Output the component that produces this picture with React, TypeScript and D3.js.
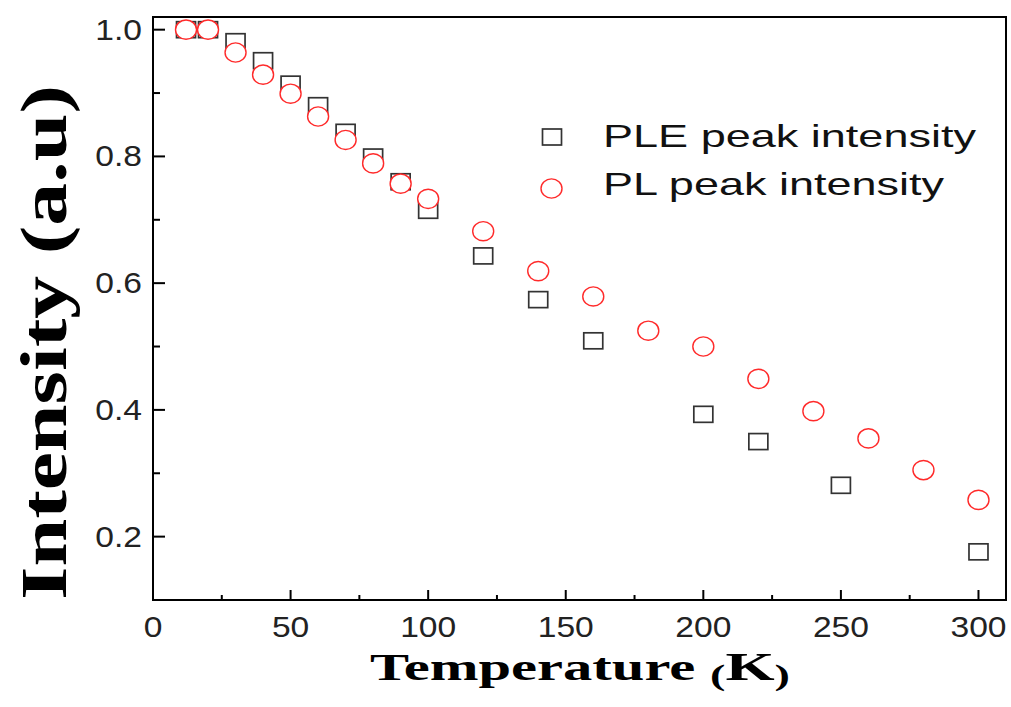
import React from "react";
import * as d3 from "d3";

const pleTemps = [12, 20, 30, 40, 50, 60, 70, 80, 90, 100, 120, 140, 160, 200, 220, 250, 300];
const pleValues = [1.0, 1.0, 0.981, 0.951, 0.914, 0.88, 0.838, 0.799, 0.76, 0.715, 0.643, 0.574, 0.509, 0.393, 0.35, 0.281, 0.176];
const plTemps = [12, 20, 30, 40, 50, 60, 70, 80, 90, 100, 120, 140, 160, 180, 200, 220, 240, 260, 280, 300];
const plValues = [1.0, 1.0, 0.964, 0.929, 0.899, 0.863, 0.826, 0.789, 0.757, 0.733, 0.682, 0.619, 0.579, 0.525, 0.5, 0.449, 0.398, 0.355, 0.305, 0.258];
const xMajorTicks = [0, 50, 100, 150, 200, 250, 300];
const xMinorTicks = [25, 75, 125, 175, 225, 275];
const yMajorTicks = [0.2, 0.4, 0.6, 0.8, 1.0];
const yMinorTicks = [0.3, 0.5, 0.7, 0.9];
const legendLabels = ["PLE peak intensity", "PL peak intensity"];

const W = 1011;
const H = 707;
const L = 153, R = 1006, T = 17, B = 600;

export default function App() {
  const x = d3.scaleLinear().domain([0, 310]).range([L, R]);
  const y = d3.scaleLinear().domain([0.1, 1.02]).range([B, T]);
  const sqW = 19, sqH = 16;
  const rx = 10.5, ry = 9.6;
  const tickFont = "'Liberation Sans', Arial, sans-serif";
  const serif = "'Liberation Serif', 'Times New Roman', serif";

  return (
    <svg width={W} height={H} style={{ position: "absolute", left: 0, top: 0, background: "#fff" }}>
      <rect x={0} y={0} width={W} height={H} fill="#fff" />
      {/* ticks */}
      {xMajorTicks.map((t) => (
        <line key={"xM" + t} x1={x(t)} x2={x(t)} y1={B} y2={B - 10} stroke="#000" strokeWidth={2} />
      ))}
      {xMinorTicks.map((t) => (
        <line key={"xm" + t} x1={x(t)} x2={x(t)} y1={B} y2={B - 5} stroke="#000" strokeWidth={2} />
      ))}
      {yMajorTicks.map((t) => (
        <line key={"yM" + t} x1={L} x2={L + 12} y1={y(t)} y2={y(t)} stroke="#000" strokeWidth={2} />
      ))}
      {yMinorTicks.map((t) => (
        <line key={"ym" + t} x1={L} x2={L + 7} y1={y(t)} y2={y(t)} stroke="#000" strokeWidth={2} />
      ))}
      {/* tick labels */}
      {xMajorTicks.map((t) => (
        <text
          key={"xl" + t}
          transform={`translate(${x(t)},637) scale(1.12,1)`}
          textAnchor="middle"
          fontFamily={tickFont}
          fontSize={30}
          fill="#222"
        >
          {t}
        </text>
      ))}
      {yMajorTicks.map((t) => (
        <text
          key={"yl" + t}
          transform={`translate(142,${y(t) + 10}) scale(1.12,1)`}
          textAnchor="end"
          fontFamily={tickFont}
          fontSize={30}
          fill="#222"
        >
          {t.toFixed(1)}
        </text>
      ))}
      {/* frame */}
      <rect x={L} y={T} width={R - L} height={B - T} fill="none" stroke="#000" strokeWidth={2} />
      {/* data: squares then circles */}
      {pleTemps.map((t, i) => (
        <rect
          key={"sq" + i}
          x={x(t) - sqW / 2}
          y={y(pleValues[i]) - sqH / 2}
          width={sqW}
          height={sqH}
          fill="#fff"
          stroke="#333"
          strokeWidth={1.7}
        />
      ))}
      {plTemps.map((t, i) => (
        <ellipse
          key={"c" + i}
          cx={x(t)}
          cy={y(plValues[i])}
          rx={rx}
          ry={ry}
          fill="#fff"
          stroke="#ff2a2a"
          strokeWidth={1.4}
        />
      ))}
      {/* legend */}
      <rect x={552 - sqW / 2} y={137 - sqH / 2} width={sqW} height={sqH} fill="#fff" stroke="#333" strokeWidth={1.7} />
      <ellipse cx={551.5} cy={188.5} rx={rx} ry={ry} fill="#fff" stroke="#ff2a2a" strokeWidth={1.4} />
      <text x={603} y={146.5} fontFamily={tickFont} fontSize={32} fill="#111" textLength={373} lengthAdjust="spacingAndGlyphs">
        {legendLabels[0]}
      </text>
      <text x={603} y={195} fontFamily={tickFont} fontSize={32} fill="#111" textLength={341} lengthAdjust="spacingAndGlyphs">
        {legendLabels[1]}
      </text>
      {/* axis titles */}
      <text
        x={370}
        y={680}
        fontFamily={serif}
        fontWeight="bold"
        fontSize={38}
        fill="#000"
        textLength={420}
        lengthAdjust="spacingAndGlyphs"
      >
        <tspan>Temperature </tspan>
        <tspan fontSize={30} dy={5}>(</tspan>
        <tspan fontSize={41} dy={-5}>K</tspan>
        <tspan fontSize={30} dy={5}>)</tspan>
      </text>
      <text
        transform={`translate(66,${(85 + 600) / 2}) rotate(-90)`}
        textAnchor="middle"
        fontFamily={serif}
        fontWeight="bold"
        fontSize={66}
        fill="#000"
        textLength={515}
        lengthAdjust="spacingAndGlyphs"
      >
        Intensity (a.u)
      </text>
    </svg>
  );
}
